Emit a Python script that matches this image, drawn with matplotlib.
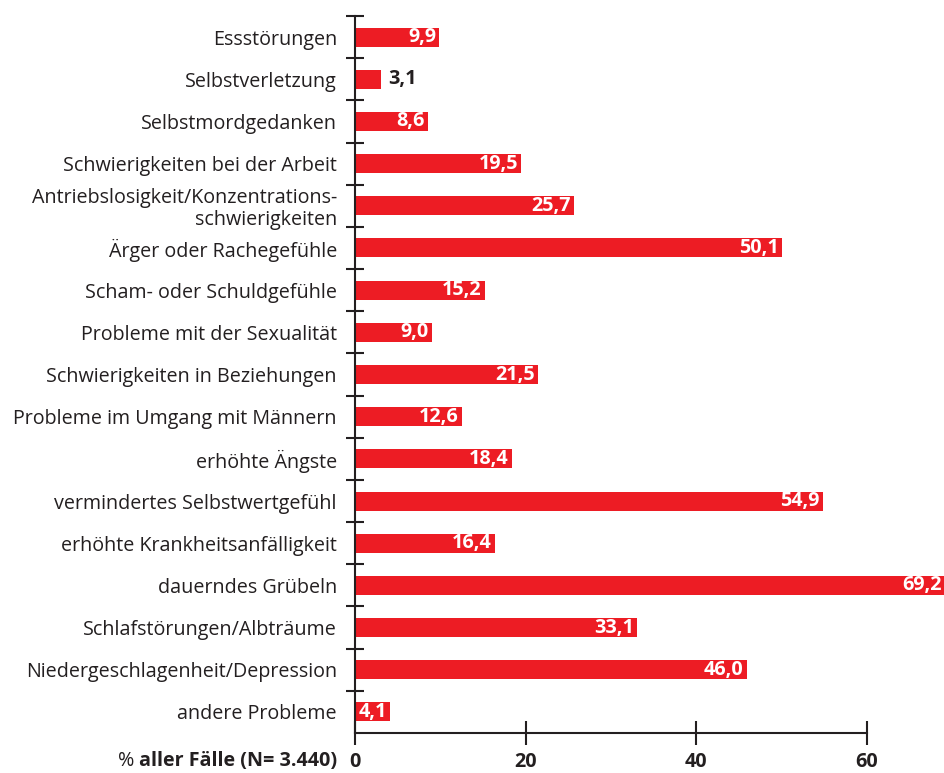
import matplotlib
matplotlib.use("Agg")
import matplotlib.pyplot as plt
from matplotlib.ticker import FixedLocator

categories = [
    "Essstörungen",
    "Selbstverletzung",
    "Selbstmordgedanken",
    "Schwierigkeiten bei der Arbeit",
    "Antriebslosigkeit/Konzentrations-\nschwierigkeiten",
    "Ärger oder Rachegefühle",
    "Scham- oder Schuldgefühle",
    "Probleme mit der Sexualität",
    "Schwierigkeiten in Beziehungen",
    "Probleme im Umgang mit Männern",
    "erhöhte Ängste",
    "vermindertes Selbstwertgefühl",
    "erhöhte Krankheitsanfälligkeit",
    "dauerndes Grübeln",
    "Schlafstörungen/Albträume",
    "Niedergeschlagenheit/Depression",
    "andere Probleme",
]
values = [9.9, 3.1, 8.6, 19.5, 25.7, 50.1, 15.2, 9.0, 21.5, 12.6, 18.4,
          54.9, 16.4, 69.2, 33.1, 46.0, 4.1]
x_ticks = [0, 20, 40, 60]
x_label = "aller Fälle (N= 3.440)"

RED = "#ED1C24"
INK = "#231F20"
FONT = "Open Sans"
plt.rcParams['font.family'] = [FONT, 'DejaVu Sans']
FS = 14.2

W, H = 945, 773
fig = plt.figure(figsize=(W / 100, H / 100), dpi=100)
ax_left, ax_right = 355 / W, 1.0
ax_top, ax_bottom = 1 - 16 / H, 1 - 733 / H
ax = fig.add_axes([ax_left, ax_bottom, ax_right - ax_left, ax_top - ax_bottom])

n = len(categories)
ypos = list(range(n))
ax.barh(ypos, values, height=0.45, color=RED, zorder=2, clip_on=False)
ax.set_ylim(n - 0.5, -0.5)
ax.set_xlim(0, 69.2)

for y, v in zip(ypos, values):
    s = f"{v:.1f}".replace(".", ",")
    if v < 4:
        ax.text(v + 0.8, y, s, ha="left", va="center", color=INK,
                fontsize=FS, fontweight="bold", zorder=3)
    else:
        ax.text(v - 0.4, y, s, ha="right", va="center", color="white",
                fontsize=FS, fontweight="bold", zorder=3)

for side in ["top", "right"]:
    ax.spines[side].set_visible(False)
for side in ["left", "bottom"]:
    ax.spines[side].set_color(INK)
    ax.spines[side].set_linewidth(1.5)
ax.spines["bottom"].set_bounds(0, 60)

ax.set_yticks(ypos)
ax.set_yticklabels(categories, fontsize=FS, color=INK, linespacing=1.12)
ax.tick_params(axis="y", which="major", length=0, pad=13)
ax.yaxis.set_minor_locator(FixedLocator([i - 0.5 for i in range(n)]))
ax.tick_params(axis="y", which="minor", direction="inout", length=13,
               width=1.5, color=INK)

ax.set_xticks(x_ticks)
ax.set_xticklabels([str(t) for t in x_ticks], fontsize=FS,
                   fontweight="bold", color=INK)
ax.tick_params(axis="x", which="major", direction="inout", length=17,
               width=1.5, color=INK, pad=5)

lbl = fig.text(337 / W, 1 - 761 / H, x_label, ha="right", va="center",
               fontsize=FS, fontweight="bold", color=INK)
ax.annotate("%", xy=(0, 0.5), xycoords=lbl, xytext=(-3, 0),
            textcoords="offset points", ha="right", va="center",
            fontsize=FS, color=INK, annotation_clip=False)

fig.savefig("out.png", dpi=100)
